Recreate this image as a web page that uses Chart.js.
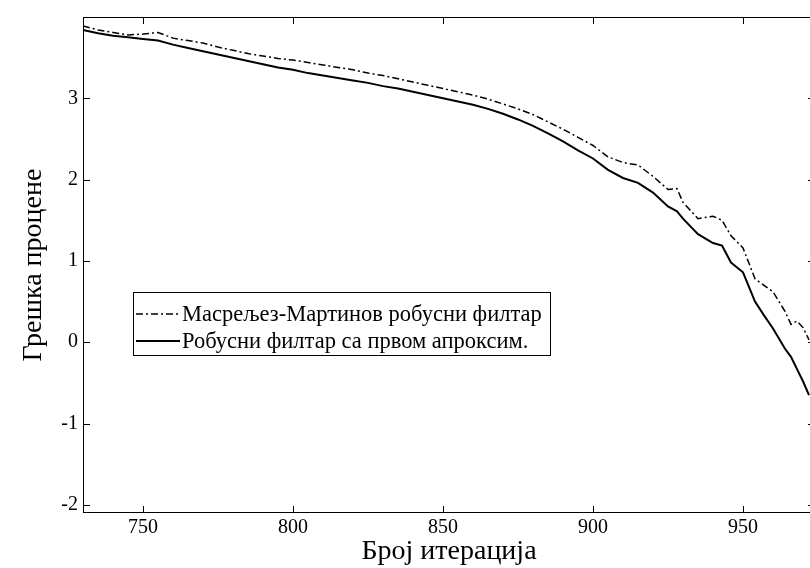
<!DOCTYPE html>
<html>
<head>
<meta charset="utf-8">
<script src="https://cdn.jsdelivr.net/npm/chart.js@4.4.1/dist/chart.umd.min.js"></script>
<style>
  html, body { margin: 0; padding: 0; background: #fff; overflow: hidden; }
  canvas { display: block; }
</style>
</head>
<body>
<canvas id="chart" width="816" height="568"></canvas>
<script>
// iteration index (x) and estimation error of both filters
const iterations = [730, 735, 740, 745, 750, 755, 760, 765, 770, 775, 780, 785, 790, 795,
  800, 805, 810, 815, 820, 825, 830, 835, 840, 845, 850, 855, 860, 865, 870, 875, 880,
  885, 890, 895, 900, 905, 910, 915, 920, 925, 928, 930, 935, 940, 943, 946, 950, 954,
  957, 960, 964, 966, 968, 970, 972];

const masreliezMartin = [3.89, 3.84, 3.81, 3.78, 3.79, 3.81, 3.74, 3.71, 3.68, 3.63, 3.59,
  3.55, 3.52, 3.49, 3.47, 3.44, 3.41, 3.38, 3.35, 3.31, 3.28, 3.24, 3.20, 3.16, 3.12, 3.08,
  3.04, 2.99, 2.93, 2.87, 2.80, 2.71, 2.62, 2.52, 2.42, 2.28, 2.21, 2.18, 2.04, 1.88, 1.89,
  1.72, 1.52, 1.55, 1.50, 1.31, 1.16, 0.78, 0.70, 0.62, 0.38, 0.22, 0.26, 0.18, 0.03];

const firstApprox = [3.84, 3.80, 3.77, 3.75, 3.73, 3.71, 3.66, 3.62, 3.58, 3.54, 3.50,
  3.46, 3.42, 3.38, 3.35, 3.31, 3.28, 3.25, 3.22, 3.19, 3.15, 3.12, 3.08, 3.04, 3.00, 2.96,
  2.92, 2.87, 2.81, 2.74, 2.66, 2.57, 2.47, 2.36, 2.26, 2.12, 2.02, 1.96, 1.84, 1.67, 1.61,
  1.52, 1.33, 1.22, 1.19, 0.98, 0.86, 0.50, 0.33, 0.17, -0.08, -0.18, -0.33, -0.48, -0.65];

const xTicks = [750, 800, 850, 900, 950];
const yTicks = [-2, -1, 0, 1, 2, 3];

const seriesNames = ["Масрељез-Мартинов робусни филтар", "Робусни филтар са првом апроксим."];

const serif = "'Liberation Serif', 'DejaVu Serif', serif";
const dashDot = [7, 3, 2, 3];

function toPoints(values) {
  return values.map((v, i) => ({ x: iterations[i], y: v }));
}

// MATLAB style box: inward ticks on all four sides plus a legend inside the axes
const matlabFrame = {
  id: "matlabFrame",
  afterDatasetsDraw(chart) {
    const { ctx, chartArea: a, scales: { x, y } } = chart;
    const tl = 7;
    ctx.save();
    ctx.strokeStyle = "#000";
    ctx.lineWidth = 1;
    ctx.beginPath();
    xTicks.forEach((v) => {
      const px = Math.round(x.getPixelForValue(v)) + 0.5;
      ctx.moveTo(px, a.bottom); ctx.lineTo(px, a.bottom - tl);
      ctx.moveTo(px, a.top); ctx.lineTo(px, a.top + tl);
    });
    yTicks.forEach((v) => {
      const py = Math.round(y.getPixelForValue(v)) + 0.5;
      ctx.moveTo(a.left, py); ctx.lineTo(a.left + tl, py);
      ctx.moveTo(a.right, py); ctx.lineTo(a.right - tl, py);
    });
    ctx.stroke();
    ctx.strokeRect(a.left + 0.5, a.top + 0.5, a.right - a.left - 1, a.bottom - a.top - 1);

    // legend
    const bx = 133.5, by = 292.5, bw = 417, bh = 63;
    ctx.fillStyle = "#fff";
    ctx.fillRect(bx, by, bw, bh);
    ctx.strokeRect(bx, by, bw, bh);
    const rows = [314, 341];
    ctx.font = "22.5px " + serif;
    ctx.textBaseline = "alphabetic";
    ctx.textAlign = "left";
    ctx.fillStyle = "#000";
    chart.data.datasets.forEach((ds, i) => {
      ctx.beginPath();
      ctx.lineWidth = ds.borderWidth;
      ctx.setLineDash(ds.borderDash || []);
      ctx.moveTo(136, rows[i]);
      ctx.lineTo(180, rows[i]);
      ctx.stroke();
      ctx.setLineDash([]);
      ctx.fillText(ds.label, 182, rows[i] + 7);
    });
    ctx.restore();
  }
};

new Chart(document.getElementById("chart"), {
  type: "line",
  data: {
    datasets: [
      {
        label: seriesNames[0],
        data: toPoints(masreliezMartin),
        borderColor: "#000",
        borderWidth: 1.5,
        borderDash: dashDot,
        pointRadius: 0,
        tension: 0
      },
      {
        label: seriesNames[1],
        data: toPoints(firstApprox),
        borderColor: "#000",
        borderWidth: 2,
        pointRadius: 0,
        tension: 0
      }
    ]
  },
  options: {
    responsive: false,
    animation: false,
    layout: { padding: { top: 11, right: 1, left: 0, bottom: 0 } },
    plugins: { legend: { display: false }, tooltip: { enabled: false } },
    scales: {
      x: {
        type: "linear",
        min: 730,
        max: 974,
        afterBuildTicks: (scale) => { scale.ticks = xTicks.map((v) => ({ value: v })); },
        afterFit: (scale) => { scale.height = 55; },
        grid: { display: false, drawTicks: false },
        border: { display: false },
        ticks: {
          autoSkip: false,
          maxRotation: 0,
          padding: 3,
          color: "#000",
          font: { family: serif, size: 20 },
          callback: (v) => String(v)
        },
        title: {
          display: true,
          text: "Број итерација",
          color: "#000",
          font: { family: serif, size: 28 },
          padding: { top: 0, bottom: 0 }
        }
      },
      y: {
        type: "linear",
        min: -2.1,
        max: 4,
        afterBuildTicks: (scale) => { scale.ticks = yTicks.map((v) => ({ value: v })); },
        afterFit: (scale) => { scale.width = 83; },
        grid: { display: false, drawTicks: false },
        border: { display: false },
        ticks: {
          autoSkip: false,
          padding: 5,
          color: "#000",
          font: { family: serif, size: 20 },
          callback: (v) => String(v)
        },
        title: {
          display: true,
          text: "Грешка процене",
          color: "#000",
          font: { family: serif, size: 28 },
          padding: { top: 17, bottom: 0 }
        }
      }
    }
  },
  plugins: [matlabFrame]
});
</script>
</body>
</html>
